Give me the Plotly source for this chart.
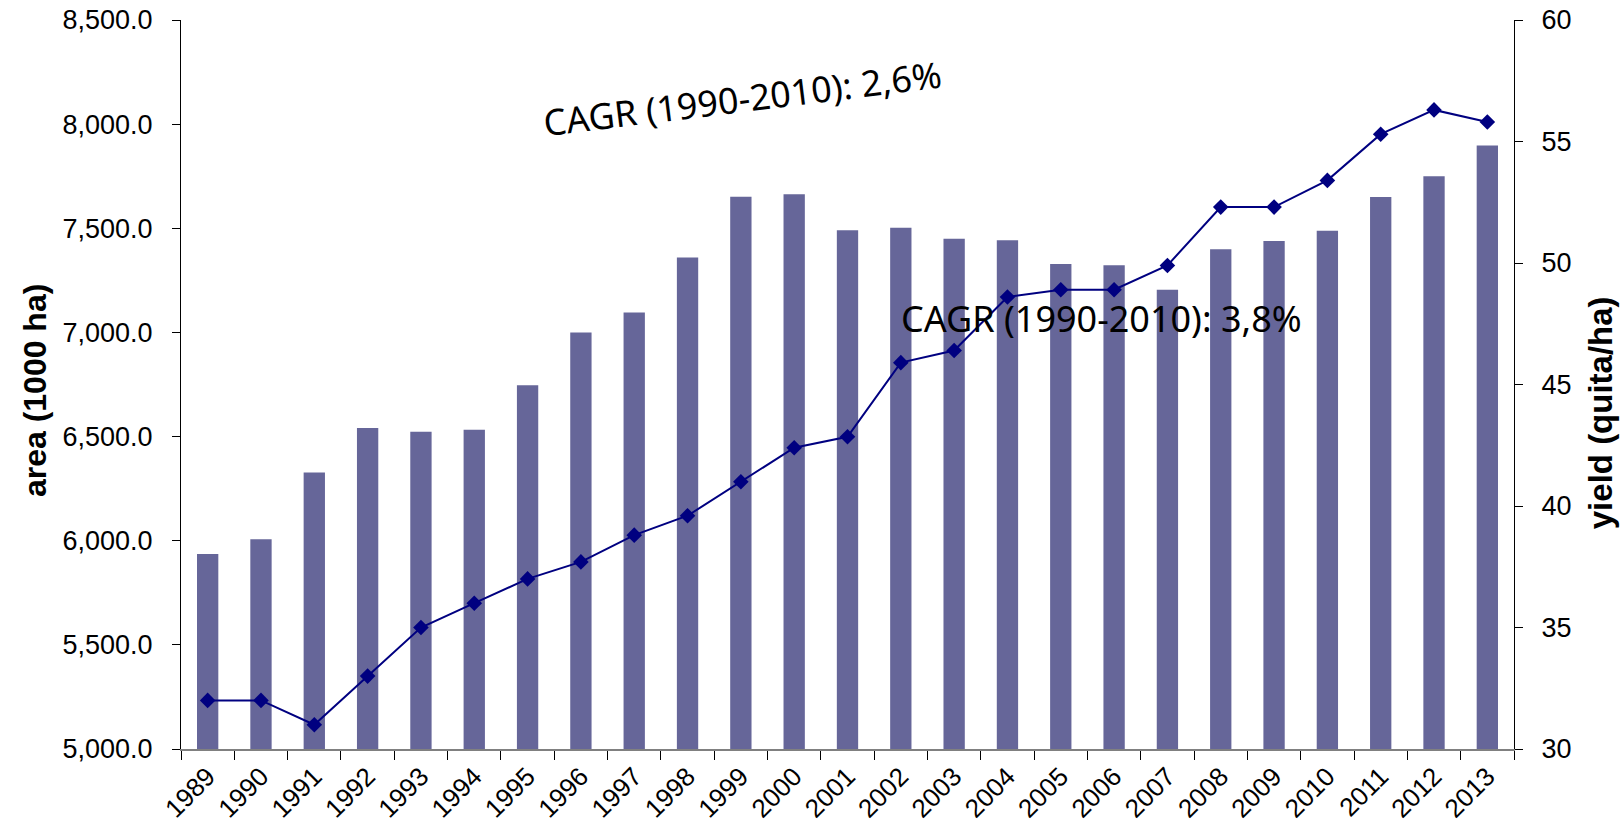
import plotly.graph_objects as go

years = ["1989", "1990", "1991", "1992", "1993", "1994", "1995", "1996", "1997",
         "1998", "1999", "2000", "2001", "2002", "2003", "2004", "2005", "2006",
         "2007", "2008", "2009", "2010", "2011", "2012", "2013"]
area = [5936, 6007, 6328, 6541, 6523, 6533, 6746, 7000, 7096,
        7360, 7652, 7664, 7491, 7503, 7450, 7442, 7328, 7323,
        7205, 7399, 7439, 7488, 7650, 7750, 7898]
yield_q = [32.0, 32.0, 31.0, 33.0, 35.0, 36.0, 37.0, 37.7, 38.8,
           39.6, 41.0, 42.4, 42.85, 45.9, 46.4, 48.6, 48.9, 48.9,
           49.9, 52.3, 52.3, 53.4, 55.3, 56.3, 55.8]
area_range = [5000, 8500]
yield_range = [30, 60]
cagr_area = "CAGR (1990-2010): 2,6%"
cagr_yield = "CAGR (1990-2010): 3,8%"

AX = "Arial, Liberation Sans, sans-serif"
CF = "Noto Sans, DejaVu Sans, sans-serif"
YTICKF = dict(family=AX, size=27, color="#000000")
XTICKF = dict(family=AX, size=26, color="#000000")
ncat = len(years)

fig = go.Figure()
fig.add_trace(go.Bar(x=years, y=area, marker=dict(color="#666699", line=dict(width=0)),
                     xaxis="x", yaxis="y", showlegend=False))
fig.add_trace(go.Scatter(x=years, y=yield_q, mode="lines+markers",
                         line=dict(color="#000080", width=2),
                         marker=dict(symbol="diamond", size=12, color="#000080"),
                         xaxis="x", yaxis="y2", showlegend=False))

fig.update_layout(
    width=1621, height=823,
    margin=dict(l=181, r=107, t=20, b=74, autoexpand=False),
    paper_bgcolor="white", plot_bgcolor="white",
    bargap=0.6,
    xaxis=dict(type="category", range=[-0.5, ncat - 0.5], tickson="boundaries",
               ticks="outside", ticklen=9, automargin=False,
               tickcolor="#000000", showline=True, linecolor="#808080", linewidth=2,
               tickangle=-45, tickfont=XTICKF, showgrid=False, zeroline=False),
    xaxis2=dict(overlaying="x", range=[-0.5, ncat - 0.5], tickmode="linear", tick0=-0.5,
                dtick=1, ticks="inside", ticklen=9, tickcolor="#000000",
                showticklabels=False, automargin=False,
                showline=False, showgrid=False, zeroline=False, anchor="y"),
    yaxis=dict(range=area_range, dtick=500, tickformat=",.1f", ticks="outside", ticklen=8,
               tickcolor="#000000", showline=True, linecolor="#000000", linewidth=1,
               tickfont=YTICKF, showgrid=False, zeroline=False, ticklabelstandoff=14,
               automargin=False),
    yaxis3=dict(overlaying="y", side="left", range=area_range, dtick=500, ticks="inside",
                ticklen=8, tickcolor="#000000", showticklabels=False, showline=False,
                showgrid=False, zeroline=False, anchor="x", automargin=False),
    yaxis2=dict(overlaying="y", side="right", range=yield_range, dtick=5, ticks="outside",
                ticklen=8, tickcolor="#000000", showline=True, linecolor="#000000",
                linewidth=1, tickfont=YTICKF, showgrid=False, zeroline=False,
                ticklabelstandoff=13, anchor="x", automargin=False),
    yaxis4=dict(overlaying="y", side="right", range=yield_range, dtick=5, ticks="inside",
                ticklen=8, tickcolor="#000000", showticklabels=False, showline=False,
                showgrid=False, zeroline=False, anchor="x", automargin=False),
    annotations=[
        dict(text="<b>area (1000 ha)</b>", xref="paper", yref="paper", x=-0.1095, y=0.491,
             xanchor="center", yanchor="middle",
             textangle=-90, showarrow=False, font=dict(family=AX, size=32, color="#000000")),
        dict(text="<b>yield (quita/ha)</b>", xref="paper", yref="paper", x=1.0655, y=0.461,
             xanchor="center", yanchor="middle",
             textangle=-90, showarrow=False, font=dict(family=AX, size=33, color="#000000")),
        dict(text=cagr_area, xref="paper", yref="paper", x=0.4209, y=0.893, textangle=-7,
             xanchor="center", yanchor="middle",
             showarrow=False, font=dict(family=CF, size=36, color="#000000")),
        dict(text=cagr_yield, xref="paper", yref="paper", x=0.6908, y=0.590,
             xanchor="center", yanchor="middle",
             showarrow=False, font=dict(family=CF, size=36, color="#000000")),
    ],
)

fig.write_html("out.html", config={"displayModeBar": False},
               post_script="document.body.style.margin='0';document.body.style.overflow='hidden';")
